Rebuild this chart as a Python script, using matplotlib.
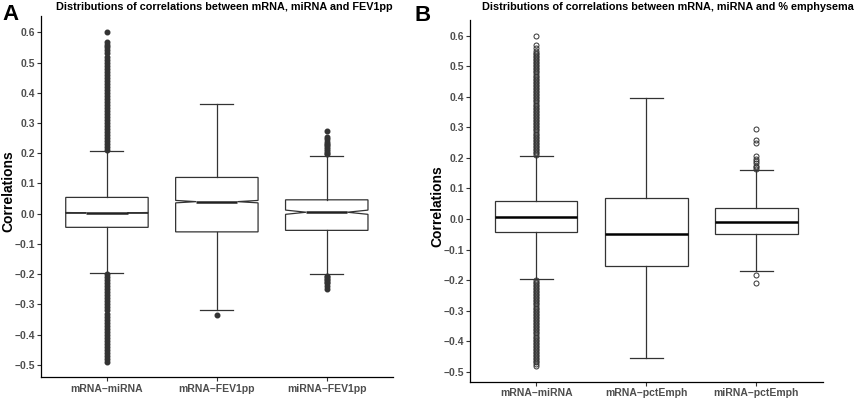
import matplotlib.pyplot as plt
import numpy as np

plt.rcParams['font.family'] = ['Liberation Sans', 'DejaVu Sans']

# ---- panel A data ----
cats_a = ["mRNA–miRNA", "mRNA–FEV1pp", "miRNA–FEV1pp"]
q1_a = [-0.045, -0.060, -0.055]
med_a = [0.003, 0.040, 0.005]
q3_a = [0.054, 0.120, 0.046]
wlo_a = [-0.197, -0.318, -0.200]
whi_a = [0.206, 0.363, 0.191]
cilo_a = [0.002, 0.036, -0.002]
cihi_a = [0.004, 0.044, 0.012]

out_a_mm = [0.210, 0.22, 0.23, 0.24, 0.25, 0.26, 0.27, 0.28, 0.29, 0.30, 0.31,
            0.32, 0.33, 0.34, 0.35, 0.36, 0.37, 0.38, 0.39, 0.40, 0.41, 0.42,
            0.43, 0.44, 0.45, 0.46, 0.47, 0.48, 0.49, 0.50, 0.51, 0.52, 0.53,
            0.54, 0.55, 0.557, 0.568, 0.600,
            -0.200, -0.21, -0.22, -0.23, -0.24, -0.25, -0.26, -0.27, -0.28,
            -0.29, -0.30, -0.31, -0.32, -0.33, -0.34, -0.35, -0.36, -0.37,
            -0.38, -0.39, -0.40, -0.41, -0.42, -0.43, -0.44, -0.45, -0.46,
            -0.47, -0.48, -0.489]
out_a_mf = [-0.335]
out_a_if = [0.196, 0.202, 0.208, 0.214, 0.220, 0.226, 0.232, 0.238, 0.246,
            0.255, 0.272,
            -0.205, -0.210, -0.215, -0.220, -0.225, -0.230, -0.240, -0.250]

# ---- panel B data ----
cats_b = ["mRNA–miRNA", "mRNA–pctEmph", "miRNA–pctEmph"]
q1_b = [-0.043, -0.154, -0.049]
med_b = [0.005, -0.049, -0.011]
q3_b = [0.058, 0.068, 0.035]
wlo_b = [-0.195, -0.455, -0.169]
whi_b = [0.207, 0.395, 0.159]

out_b_mm = [0.210, 0.215, 0.22, 0.225, 0.23, 0.235, 0.24, 0.245, 0.25, 0.255,
            0.26, 0.265, 0.27, 0.275, 0.28, 0.285, 0.29, 0.295, 0.30, 0.305,
            0.31, 0.315, 0.32, 0.325, 0.33, 0.335, 0.34, 0.345, 0.35, 0.355,
            0.36, 0.365, 0.37, 0.375, 0.38, 0.385, 0.39, 0.395, 0.40, 0.405,
            0.41, 0.415, 0.42, 0.425, 0.43, 0.435, 0.44, 0.445, 0.45, 0.455,
            0.46, 0.465, 0.47, 0.475, 0.48, 0.485, 0.49, 0.495, 0.50, 0.505,
            0.51, 0.515, 0.52, 0.525, 0.53, 0.535, 0.54, 0.545, 0.55,
            0.560, 0.570, 0.600,
            -0.200, -0.205, -0.21, -0.215, -0.22, -0.225, -0.23, -0.235,
            -0.24, -0.245, -0.25, -0.255, -0.26, -0.265, -0.27, -0.275, -0.28,
            -0.285, -0.29, -0.295, -0.30, -0.305, -0.31, -0.315, -0.32,
            -0.325, -0.33, -0.335, -0.34, -0.345, -0.35, -0.355, -0.36,
            -0.365, -0.37, -0.375, -0.38, -0.385, -0.39, -0.395, -0.40,
            -0.405, -0.41, -0.415, -0.42, -0.425, -0.43, -0.435, -0.44,
            -0.445, -0.45, -0.455, -0.46, -0.465, -0.47, -0.475, -0.480]
out_b_mp = []
out_b_ip = [0.165, 0.170, 0.175, 0.183, 0.190, 0.197, 0.206, 0.248, 0.259,
            0.294, -0.183, -0.210]

yticks = [-0.5, -0.4, -0.3, -0.2, -0.1, 0.0, 0.1, 0.2, 0.3, 0.4, 0.5, 0.6]

edge = '#333333'


def make_stats(q1, med, q3, wlo, whi, fliers, cilo=None, cihi=None):
    stats = []
    for i in range(len(q1)):
        d = dict(q1=q1[i], med=med[i], q3=q3[i], whislo=wlo[i], whishi=whi[i],
                 fliers=fliers[i])
        if cilo is not None:
            d['cilo'] = cilo[i]
            d['cihi'] = cihi[i]
        stats.append(d)
    return stats


def style_axis(ax, cats, ylim, xpad):
    ax.set_xlim(0.4, 3.6)
    ax.set_ylim(*ylim)
    ax.spines['top'].set_visible(False)
    ax.spines['right'].set_visible(False)
    for s in ['left', 'bottom']:
        ax.spines[s].set_color('black')
        ax.spines[s].set_linewidth(0.9)
    ax.set_yticks(yticks)
    ax.set_yticklabels([f"{v:.1f}".replace("-", "−") for v in yticks])
    ax.set_xticks([1, 2, 3])
    ax.set_xticklabels(cats)
    ax.tick_params(axis='both', direction='out', length=3, width=0.8,
                   color=edge, labelcolor='#4D4D4D', labelsize=7.5)
    ax.tick_params(axis='y', pad=1)
    ax.tick_params(axis='x', pad=xpad)
    for lab in ax.get_xticklabels() + ax.get_yticklabels():
        lab.set_fontweight('bold')


fig = plt.figure(figsize=(8.58, 3.98), dpi=100)

# panel A
axA = fig.add_axes([41 / 858, 21 / 398, 351.7 / 858, 361 / 398])
statsA = make_stats(q1_a, med_a, q3_a, wlo_a, whi_a,
                    [out_a_mm, out_a_mf, out_a_if], cilo_a, cihi_a)
bpA = axA.bxp(statsA, positions=[1, 2, 3], widths=0.75, capwidths=0.3,
              shownotches=True, patch_artist=True,
              boxprops=dict(facecolor='white', edgecolor=edge, linewidth=0.9),
              whiskerprops=dict(color=edge, linewidth=0.9),
              capprops=dict(color=edge, linewidth=0.9),
              medianprops=dict(color='#222222', linewidth=1.8),
              flierprops=dict(marker='o', markerfacecolor=edge,
                              markeredgecolor=edge, markersize=3.3))
style_axis(axA, cats_a, (-0.540, 0.654), 2)

# panel B
axB = fig.add_axes([470 / 858, 16.3 / 398, 352.5 / 858, 361.7 / 398])
statsB = make_stats(q1_b, med_b, q3_b, wlo_b, whi_b,
                    [out_b_mm, out_b_mp, out_b_ip])
bpB = axB.bxp(statsB, positions=[1, 2, 3], widths=0.75, capwidths=0.3,
              patch_artist=True,
              boxprops=dict(facecolor='white', edgecolor=edge, linewidth=0.9),
              whiskerprops=dict(color=edge, linewidth=0.9),
              capprops=dict(color=edge, linewidth=0.9),
              medianprops=dict(color='black', linewidth=1.8),
              flierprops=dict(marker='o', markerfacecolor='none',
                              markeredgecolor=edge, markeredgewidth=0.7,
                              markersize=3.6))
style_axis(axB, cats_b, (-0.533, 0.652), 1.5)

# titles, labels, panel letters
fig.text(224.5 / 858, 1 - 7.5 / 398,
         "Distributions of correlations between mRNA, miRNA and FEV1pp",
         ha='center', va='center', fontsize=7.8, fontweight='bold')
fig.text(668 / 858, 1 - 7.5 / 398,
         "Distributions of correlations between mRNA, miRNA and % emphysema",
         ha='center', va='center', fontsize=7.85, fontweight='bold')
fig.text(8.5 / 858, 1 - 191.5 / 398, "Correlations", rotation=90,
         ha='center', va='center', fontsize=10, fontweight='bold')
fig.text(437.5 / 858, 1 - 206 / 398, "Correlations", rotation=90,
         ha='center', va='center', fontsize=10, fontweight='bold')
fig.text(2 / 858, 1 - 14 / 398, "A", ha='left', va='center',
         fontsize=16, fontweight='bold')
fig.text(414 / 858, 1 - 15.5 / 398, "B", ha='left', va='center',
         fontsize=16, fontweight='bold')

plt.savefig('out.png', dpi=100)
